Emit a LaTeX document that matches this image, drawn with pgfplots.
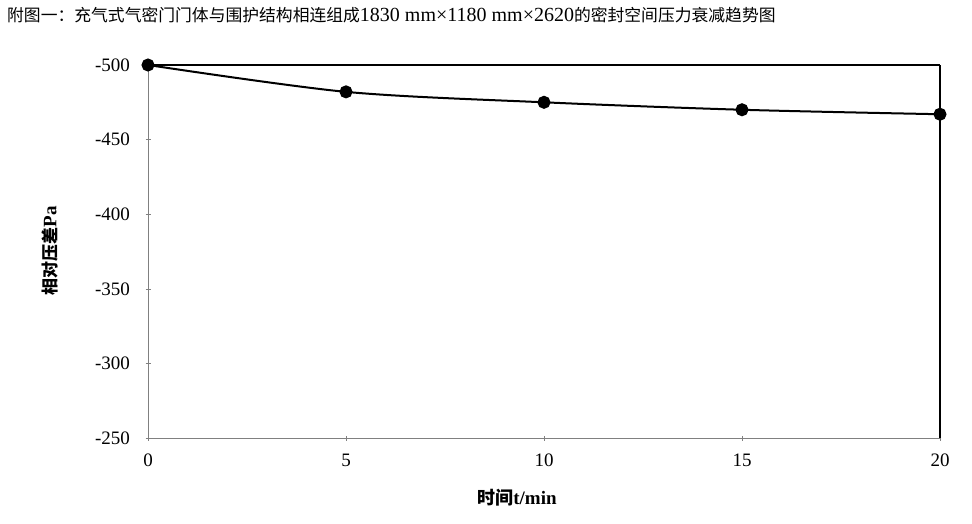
\documentclass[border=0pt]{standalone}
\usepackage{pgfplots}
\pgfplotsset{compat=1.18}
\usepackage{fontspec}
\setmainfont{Liberation Serif}
\newfontfamily\cjk{Noto Sans CJK SC}
\begin{document}
\begin{tikzpicture}
\useasboundingbox (0,0) rectangle (972bp,524bp);
\begin{axis}[
  scale only axis,
  width=792bp, height=373bp,
  at={(148bp,86bp)}, anchor=south west,
  xmin=0, xmax=20, ymin=-500, ymax=-250,
  y dir=reverse,
  xtick={0,5,10,15,20},
  ytick={-500,-450,-400,-350,-300,-250},
  axis line style={draw=none},
  tick style={gray, line width=0.6bp},
  major tick length=5bp,
  tick align=center,
  xtick pos=bottom, ytick pos=left,
  /pgf/number format/assume math mode=true,
  ticklabel style={font=\fontsize{19bp}{20bp}\selectfont},
  xticklabel style={yshift=-10bp},
  yticklabel style={xshift=-12bp},
  clip=false,
]
\draw[gray, line width=0.8bp] (rel axis cs:0,0) -- (rel axis cs:1,0);
\draw[gray, line width=0.8bp] (rel axis cs:0,0) -- (rel axis cs:0,1);
\draw[black, line width=1.6bp] (rel axis cs:0,1) -- (rel axis cs:1,1);
\draw[black, line width=1.4bp] (rel axis cs:1,0) -- (rel axis cs:1,1);
\addplot[black, line width=2bp, smooth, tension=0.5, mark=*, mark size=5.5bp, mark options={fill=black}]
  coordinates {(0,-500) (5,-482) (10,-475) (15,-470) (20,-467)};
\end{axis}
\node[anchor=west, inner sep=0pt] at (7bp,509bp)
  {\fontsize{16.8bp}{18bp}\selectfont{\cjk 附图一：充气式气密门门体与围护结构相连组成}{\fontsize{20bp}{20bp}\selectfont 1830 mm×1180 mm×2620}{\cjk 的密封空间压力衰减趋势图}};
\node[rotate=90, inner sep=0pt] at (50bp,273bp)
  {\bfseries{\fontsize{17bp}{18bp}\selectfont\cjk 相对压差}{\fontsize{19bp}{19bp}\selectfont Pa}};
\node[inner sep=0pt] at (517bp,26bp)
  {\bfseries{\fontsize{18bp}{18bp}\selectfont\cjk 时间}{\fontsize{19bp}{19bp}\selectfont t/min}};
\end{tikzpicture}
\end{document}
